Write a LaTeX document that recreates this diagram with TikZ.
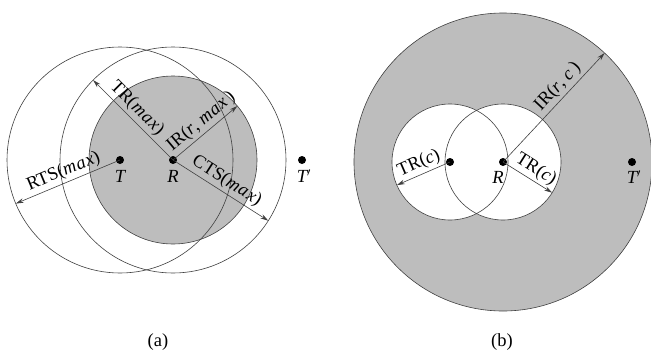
\documentclass[tikz,border=0pt]{standalone}
\usepackage{fontspec}
\setmainfont{Liberation Serif}
\usetikzlibrary{arrows.meta}
\newcommand{\maxtxt}{\textit{m\kern0.8pt a\kern0.8pt x}}
\tikzset{
  ln/.style={draw=black!75, line width=0.6pt},
  arr/.style={ln, -{Stealth[length=8pt,width=4.5pt]}},
  dotnode/.style={circle, fill=black, inner sep=0pt, minimum size=8pt},
  lbl/.style={font=\fontsize{18.5}{22}\selectfont, inner sep=2.5pt},
  ilbl/.style={font=\fontsize{18.5}{22}\selectfont\itshape, inner sep=2pt},
  shade/.style={fill=black!26}
}
\begin{document}
\begin{tikzpicture}[x=1pt,y=1pt]
\useasboundingbox (0,-354) rectangle (651,0);
% ---------- panel (a) ----------
\coordinate (Ra) at (173,-160);
\coordinate (Ta) at (120,-160);
\fill[shade, draw=black!75, line width=0.6pt] (Ra) circle (84);
\draw[ln] (Ta) circle (113);
\draw[ln] (Ra) circle (113);
\node[dotnode] (T) at (Ta) {};
\node[dotnode] (R) at (Ra) {};
\node[dotnode] (Tp) at (302,-160) {};
\node[ilbl] (Tl) at (120,-176) {T};
\node[ilbl] (Rl) at (173,-176) {R};
\node[ilbl] (Tpl) at (304,-176) {T$'$};
\path (R.center) ++(135:113) coordinate (trtip);
\path (R.center) ++(40:84) coordinate (irtip);
\path (R.center) ++(-32.5:113) coordinate (ctstip);
\path (T.center) ++(202.7:113) coordinate (rtstip);
\draw[arr] (R.center) -- (trtip) node[lbl, pos=0.55, above, rotate=-45] (trlab) {TR(\maxtxt)};
\draw[arr] (R.center) -- (irtip) node[lbl, pos=0.55, above, rotate=40] (irlab) {IR(\textit{r}, \maxtxt\,)};
\draw[arr] (R.center) -- (ctstip) node[lbl, pos=0.5, above, rotate=-32.5] (ctslab) {CTS(\maxtxt)};
\draw[arr] (T.center) -- (rtstip) node[lbl, pos=0.5, above, rotate=22.7] (rtslab) {RTS(\maxtxt)};
\node[lbl] (capa) at (158,-342) {(a)};
% ---------- panel (b) ----------
\coordinate (Rb) at (503,-162);
\coordinate (Lb) at (450,-162);
\fill[shade, draw=black!75, line width=0.6pt] (Rb) circle (149);
\fill[white] (Lb) circle (58);
\fill[white] (Rb) circle (58);
\draw[ln] (Lb) circle (58);
\draw[ln] (Rb) circle (58);
\node[dotnode] (L2) at (Lb) {};
\node[dotnode] (R2) at (Rb) {};
\node[dotnode] (Tp2) at (632,-162) {};
\node[ilbl] (R2l) at (498,-177) {R};
\node[ilbl] (Tp2l) at (634,-177) {T$'$};
\path (R2.center) ++(47:149) coordinate (irctip);
\path (R2.center) ++(-32:58) coordinate (trrtip);
\path (L2.center) ++(203.5:58) coordinate (trltip);
\draw[arr] (R2.center) -- (irctip) node[lbl, pos=0.62, above, rotate=47] (irclab) {IR(\textit{r}, \textit{c}\,)};
\draw[arr] (R2.center) -- (trrtip) node[lbl, pos=0.55, above, rotate=-32] (trrlab) {TR(\textit{c})};
\draw[arr] (L2.center) -- (trltip) node[lbl, pos=0.5, above, rotate=23.5] (trllab) {TR(\textit{c})};
\node[lbl] (capb) at (502,-342) {(b)};
\end{tikzpicture}
\end{document}
